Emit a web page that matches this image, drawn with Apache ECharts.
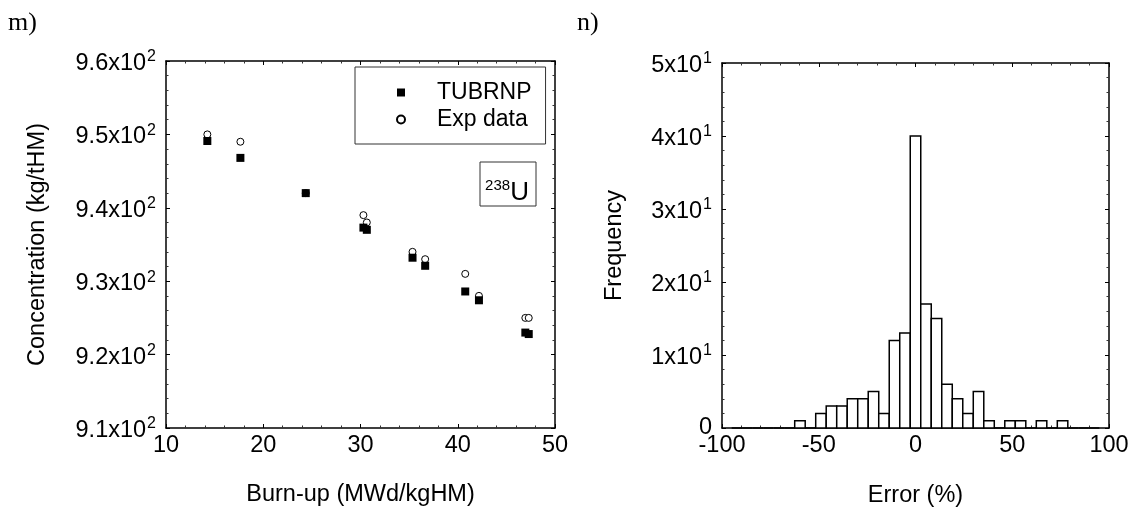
<!DOCTYPE html>
<html>
<head>
<meta charset="utf-8">
<script src="https://cdn.jsdelivr.net/npm/echarts/dist/echarts.min.js"></script>
<style>
html,body{margin:0;padding:0;background:#fff;}
#chart{width:1132px;height:510px;}
</style>
</head>
<body>
<div id="chart"></div>
<script>
// ---- Panel m) : 238U concentration vs burn-up ----
const burnup   = [14.25, 17.65, 24.37, 30.3, 30.65, 35.35, 36.65, 40.77, 42.18, 46.95, 47.3];
const tubrnp   = [949.1, 946.8, 942.0, 937.3, 937.0, 933.2, 932.1, 928.6, 927.4, 923.0, 922.8];
const expData  = [950.0, 949.0, 942.0, 939.0, 938.0, 934.0, 933.0, 931.0, 928.0, 925.0, 925.0];
const burnupTicks = [10, 20, 30, 40, 50];
const concTicks   = [910, 920, 930, 940, 950, 960];

// ---- Panel n) : histogram of errors ----
const errorBinMin = -95;
const errorBinMax = 95;
const errorCounts = [0, 0, 0, 0, 0, 0, 1, 0, 2, 3, 3, 4, 4, 5, 2, 12, 13, 40, 17, 15,
                     6, 4, 2, 5, 1, 0, 1, 1, 0, 1, 0, 1, 0, 0, 0];
const errorTicks = [-100, -50, 0, 50, 100];
const freqTicks  = [0, 10, 20, 30, 40, 50];

const binW = (errorBinMax - errorBinMin) / errorCounts.length;
const histData = errorCounts.map((c, i) => [errorBinMin + i * binW, errorBinMin + (i + 1) * binW, c]);

const FONT = 'Liberation Sans';
const FS = 23.5;
const baseText = {fontFamily: FONT, fontSize: FS, color: '#000'};

function axisCommon(extra) {
  return Object.assign({
    axisLine: {show: true, onZero: false, lineStyle: {color: '#000', width: 1.5}},
    axisTick: {show: true, inside: true, length: 4, lineStyle: {color: '#000', width: 1}},
    minorTick: {show: true, splitNumber: 5, length: 2.5, lineStyle: {color: '#333', width: 1}},
    splitLine: {show: false},
    nameMoveOverlap: false
  }, extra);
}
const hiddenLabel = {show: false};

const supRich = {
  m: {fontFamily: FONT, fontSize: FS, color: '#000', padding: [5, 0, 0, 0]},
  s: {fontFamily: FONT, fontSize: 16, color: '#000', padding: [0, 0, 8, 1]},
  z: {fontFamily: FONT, fontSize: FS, color: '#000'}
};

const chart = echarts.init(document.getElementById('chart'), null, {renderer: 'canvas'});

chart.setOption({
  backgroundColor: '#fff',
  animation: false,
  grid: [
    {left: 166, top: 61, width: 389, height: 367, outerBoundsMode: 'none', containLabel: false},
    {left: 722, top: 63, width: 387, height: 365, outerBoundsMode: 'none', containLabel: false}
  ],
  xAxis: [
    axisCommon({
      type: 'value', gridIndex: 0, position: 'bottom',
      min: burnupTicks[0], max: burnupTicks[burnupTicks.length - 1], interval: 10,
      axisLabel: Object.assign({margin: 6}, baseText),
      name: 'Burn-up (MWd/kgHM)', nameLocation: 'middle', nameGap: 55,
      nameTextStyle: baseText
    }),
    axisCommon({
      type: 'value', gridIndex: 0, position: 'top',
      min: burnupTicks[0], max: burnupTicks[burnupTicks.length - 1], interval: 10,
      axisLabel: hiddenLabel
    }),
    axisCommon({
      type: 'value', gridIndex: 1, position: 'bottom',
      min: errorTicks[0], max: errorTicks[errorTicks.length - 1], interval: 50,
      axisLabel: Object.assign({margin: 6}, baseText),
      name: 'Error (%)', nameLocation: 'middle', nameGap: 56,
      nameTextStyle: baseText
    }),
    axisCommon({
      type: 'value', gridIndex: 1, position: 'top',
      min: errorTicks[0], max: errorTicks[errorTicks.length - 1], interval: 50,
      axisLabel: hiddenLabel
    })
  ],
  yAxis: [
    axisCommon({
      type: 'value', gridIndex: 0, position: 'left',
      min: concTicks[0], max: concTicks[concTicks.length - 1], interval: 10,
      axisLabel: {
        margin: 10,
        formatter: v => '{m|' + (v / 100).toFixed(1) + 'x10}{s|2}',
        rich: supRich
      },
      name: 'Concentration (kg/tHM)', nameLocation: 'middle', nameGap: 116,
      nameTextStyle: baseText
    }),
    axisCommon({
      type: 'value', gridIndex: 0, position: 'right',
      min: concTicks[0], max: concTicks[concTicks.length - 1], interval: 10,
      axisLabel: hiddenLabel
    }),
    axisCommon({
      type: 'value', gridIndex: 1, position: 'left',
      min: freqTicks[0], max: freqTicks[freqTicks.length - 1], interval: 10,
      axisLabel: {
        margin: 10,
        formatter: v => v === 0 ? '{z|0}' : '{m|' + (v / 10) + 'x10}{s|1}',
        rich: supRich
      },
      name: 'Frequency', nameLocation: 'middle', nameGap: 95,
      nameTextStyle: baseText
    }),
    axisCommon({
      type: 'value', gridIndex: 1, position: 'right',
      min: freqTicks[0], max: freqTicks[freqTicks.length - 1], interval: 10,
      axisLabel: hiddenLabel
    })
  ],
  legend: {
    data: ['TUBRNP', 'Exp data'],
    orient: 'vertical',
    left: 355, top: 67,
    itemWidth: 8, itemHeight: 8, itemGap: 4,
    padding: [14, 14, 13, 41],
    borderColor: '#333', borderWidth: 1,
    backgroundColor: '#fff',
    selectedMode: false,
    textStyle: {fontFamily: FONT, fontSize: 23, color: '#000', lineHeight: 23, padding: [0, 0, 0, 27]}
  },
  graphic: [
    {type: 'text', x: 8, y: 23, style: {text: 'm)', font: '26px "Liberation Serif"', fill: '#000', verticalAlign: 'middle'}},
    {type: 'text', x: 577, y: 23, style: {text: 'n)', font: '26px "Liberation Serif"', fill: '#000', verticalAlign: 'middle'}},
    {type: 'group', x: 480, y: 162, children: [
      {type: 'rect', shape: {x: 0, y: 0, width: 56, height: 44}, style: {fill: '#fff', stroke: '#333', lineWidth: 1}},
      {type: 'text', x: 27, y: 31, style: {
        text: '{s|238}{u|U}', align: 'center', verticalAlign: 'middle',
        rich: {
          s: {fontFamily: FONT, fontSize: 15, fill: '#000', padding: [0, 0, 14, 0]},
          u: {fontFamily: FONT, fontSize: 26, fill: '#000'}
        }
      }}
    ]}
  ],
  series: [
    {
      name: 'Exp data', type: 'scatter', xAxisIndex: 0, yAxisIndex: 0,
      symbol: 'circle', symbolSize: 7,
      itemStyle: {color: '#fff', borderColor: '#000', borderWidth: 1, opacity: 1},
      data: burnup.map((b, i) => [b, expData[i]]),
      z: 3
    },
    {
      name: 'TUBRNP', type: 'scatter', xAxisIndex: 0, yAxisIndex: 0,
      symbol: 'rect', symbolSize: 8,
      itemStyle: {color: '#000', opacity: 1},
      data: burnup.map((b, i) => [b, tubrnp[i]]),
      z: 4
    },
    {
      name: 'Histogram', type: 'custom', xAxisIndex: 2, yAxisIndex: 2,
      encode: {x: [0, 1], y: 2},
      data: histData,
      renderItem: function (params, api) {
        const p0 = api.coord([api.value(0), api.value(2)]);
        const p1 = api.coord([api.value(1), 0]);
        return {
          type: 'rect',
          shape: {x: p0[0], y: p0[1], width: p1[0] - p0[0], height: p1[1] - p0[1]},
          style: {fill: '#fff', stroke: '#000', lineWidth: 1.5}
        };
      },
      z: 2
    }
  ]
});
</script>
</body>
</html>
